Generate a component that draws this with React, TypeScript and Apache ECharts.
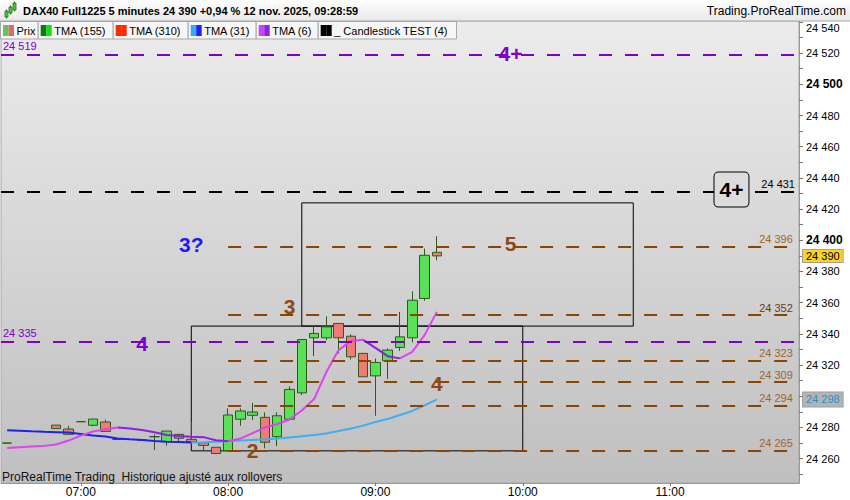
import React, { useEffect, useRef } from "react";
import * as echarts from "echarts";

// ---------- data ----------
const times = [
  "06:30","06:35","06:40","06:45","06:50","06:55",
  "07:00","07:05","07:10","07:15","07:20","07:25","07:30","07:35","07:40","07:45","07:50","07:55",
  "08:00","08:05","08:10","08:15","08:20","08:25","08:30","08:35","08:40","08:45","08:50","08:55",
  "09:00","09:05","09:10","09:15","09:20","09:25","09:30","09:35","09:40","09:45","09:50","09:55",
  "10:00","10:05","10:10","10:15","10:20","10:25","10:30","10:35","10:40","10:45","10:50","10:55",
  "11:00","11:05","11:10","11:15","11:20","11:25","11:30","11:35","11:40","11:45","11:50",
];
const hourLabels = ["07:00", "08:00", "09:00", "10:00", "11:00"];

const candleTimes = [
  "06:30","06:50","06:55","07:00","07:05","07:10","07:15","07:25","07:30","07:35","07:40","07:45","07:50","07:55",
  "08:00","08:05","08:10","08:15","08:20","08:25","08:30","08:35","08:40","08:45","08:50","08:55",
  "09:00","09:05","09:10","09:15","09:20","09:25",
];
const opens = [24270, 24281.5, 24279, 24283.7, 24281.4, 24283.5, 24272.4, 24272, 24274.1, 24270.9, 24275.6, 24272.4, 24270.2, 24267.3,
  24265.1, 24285.3, 24287.8, 24286.5, 24274.1, 24285.3, 24302.2, 24337.5, 24337.5, 24346.7, 24338.5, 24327.5,
  24313.1, 24322.7, 24331.3, 24337.5, 24362.7, 24392.3];
const closes = [24270, 24279.3, 24275.6, 24283.7, 24285.4, 24277.5, 24272.4, 24272, 24274.1, 24277.7, 24273.1, 24270.7, 24268.5, 24263.3,
  24288, 24290.6, 24289.9, 24270.5, 24287.5, 24304.4, 24336.4, 24340.3, 24344.5, 24337.5, 24325.3, 24312.5,
  24321.7, 24329.6, 24338.1, 24361.6, 24390.4, 24390];
const lows = [24270, 24279.3, 24275.6, 24283.7, 24280.7, 24277.5, 24272.4, 24272, 24265.6, 24268.3, 24270.9, 24270.7, 24264.9, 24263.3,
  24265.1, 24281.1, 24284.8, 24266.6, 24268.1, 24285.3, 24300.8, 24325.7, 24336, 24327.5, 24323.6, 24312.5,
  24287.5, 24311, 24329.1, 24334.5, 24361.2, 24387.2];
const highs = [24270, 24281.5, 24281, 24283.7, 24285.4, 24285, 24272.4, 24272, 24275.6, 24277.7, 24275.6, 24283.7, 24270.2, 24267.3,
  24292.2, 24292.2, 24295.8, 24289.7, 24289.7, 24306.4, 24336.4, 24345.6, 24351.3, 24346.7, 24339.8, 24327.5,
  24324.2, 24330.7, 24354.1, 24367.3, 24394.7, 24402.6];

// moving averages, one value per 5-min slot from 06:30 to 09:25
const tma31 = [24278.2, 24277.9, 24277.5, 24277.2, 24277.0, 24276.8, 24275.8, 24274.8, 24274.2, 24273.0, 24272.4, 24272.0,
  24271.3, 24270.9, 24270.7, 24270.4, 24270.6, 24270.9, 24271.3, 24271.6, 24272.0, 24272.4, 24272.9, 24273.6,
  24274.3, 24275.2, 24276.2, 24277.7, 24279.3, 24281.2, 24283.5, 24285.4, 24288.0, 24290.6, 24294.2, 24298.0];
const tma6 = [24266.8, 24267.3, 24267.8, 24268.2, 24269.1, 24271.6, 24274.8, 24277.4, 24278.8, 24280.0, 24279.4, 24278.4,
  24276.9, 24275.2, 24274.5, 24274.1, 24273.8, 24271.8, 24271.2, 24272.9, 24276.4, 24280.0, 24282.2, 24285.1,
  24290.9, 24298.2, 24315.5, 24329.6, 24335.5, 24336.2, 24331.0, 24325.7, 24324.3, 24328.5, 24339.2, 24354.1];

// horizontal levels
const purpleLevels = [24519, 24335];
const blackLevels = [24431];
const brownLevels = [24396, 24352, 24323, 24309, 24294, 24265];
const brownStart = "08:00";
const brownEnd = "11:50";

// rectangles: [fromTime, toTime, low, high]
const boxes: [string, string, number, number][] = [
  ["07:45", "10:00", 24265, 24345],
  ["08:30", "10:45", 24345, 24424],
];

// annotations: [text, time, value]
const purpleNotes: [string, string, number][] = [["4+", "09:55", 24520], ["4", "07:25", 24334]];
const blueNotes: [string, string, number][] = [["3?", "07:45", 24397]];
const brownNotes: [string, string, number][] = [["3", "08:25", 24357.5], ["5", "09:55", 24398], ["4", "09:25", 24308.5], ["2", "08:10", 24265]];
const boxedNote: [string, string, number] = ["4+", "11:25", 24432.5];

const yMin = 24244.4;
const yMax = 24540.6;
// 24 300 is hidden behind the TMA(31) badge in the reference
const yTicks = [24260, 24280, 24320, 24340, 24360, 24380, 24400, 24420, 24440, 24460, 24480, 24500, 24520, 24540];
const yMinorTicks = [24250, 24260, 24270, 24280, 24290, 24300, 24310, 24320, 24330, 24340, 24350, 24360, 24370, 24380, 24390,
  24400, 24410, 24420, 24430, 24440, 24450, 24460, 24470, 24480, 24490, 24500, 24510, 24520, 24530, 24540];

const titleText = "DAX40 Full1225 5 minutes 24 390 +0,94 % 12 nov. 2025, 09:28:59";
const siteText = "Trading.ProRealTime.com";
const footerText = "ProRealTime Trading  Historique ajusté aux rollovers";
const legendItems = ["Prix", "TMA (155)", "TMA (310)", "TMA (31)", "TMA (6)", "_ Candlestick TEST (4)"];

// ---------- layout / style ----------
const FONT = "'Liberation Sans', Arial, sans-serif";
const legendEdges = [0, 37.7, 112.7, 187.7, 255.7, 317.7, 456];
const legendIconColors = [
  ["#5cc85c", "#e06a6a"],
  ["#0a7a0a", "#14dd14"],
  ["#ff2a00", "#ff2a00"],
  ["#3aaaf0", "#1f1fff"],
  ["#cc44f0", "#8a22ee"],
  ["#000000", "#000000"],
];
const PURPLE = "#8000c8";
const BROWN = "#8b4500";
const BROWN_TXT = "#8b4a14";

function fmt(v: number) {
  const r = Math.round(v);
  return `${Math.floor(r / 1000)} ${String(r % 1000).padStart(3, "0")}`;
}

function splitByDirection(vals: number[]) {
  const up: (number | string)[] = vals.map(() => "-");
  const down: (number | string)[] = vals.map(() => "-");
  for (let i = 0; i < vals.length - 1; i++) {
    const t = vals[i + 1] >= vals[i] ? up : down;
    t[i] = vals[i];
    t[i + 1] = vals[i + 1];
  }
  return { up, down };
}

function noteItems(notes: [string, string, number][], color: string) {
  return notes.map(([text, t, v]) => ({
    coord: [t, v],
    label: {
      show: true,
      position: "inside",
      formatter: text,
      color,
      fontSize: 21,
      fontWeight: "bold",
      fontFamily: FONT,
    },
  }));
}

function buildGraphics() {
  const g: any[] = [];
  g.push({
    type: "rect",
    z: 100,
    silent: true,
    shape: { x: -1, y: -1, width: 852, height: 22 },
    style: {
      fill: new echarts.graphic.LinearGradient(0, 0, 0, 1, [
        { offset: 0, color: "#ffffff" },
        { offset: 1, color: "#e9e9e9" },
      ]),
      stroke: "#a8a8a8",
      lineWidth: 1,
    },
  });
  // candle icon
  const icon = [
    [5, 11, 6],
    [9, 7, 6],
    [13, 3, 7],
  ];
  icon.forEach(([x, y, h]) => {
    g.push({ type: "line", z: 101, silent: true, shape: { x1: x + 1.5, y1: y - 1.5, x2: x + 1.5, y2: y + h + 1.5 }, style: { stroke: "#2a6a1a", lineWidth: 1 } });
    g.push({ type: "rect", z: 101, silent: true, shape: { x, y, width: 3, height: h }, style: { fill: "#44cc44", stroke: "#2a6a1a", lineWidth: 0.8 } });
  });
  g.push({
    type: "text", z: 101, silent: true,
    style: { text: titleText, x: 23, y: 11, verticalAlign: "middle", align: "left", fontSize: 11, fontWeight: "bold", fontFamily: FONT, fill: "#000" },
  });
  g.push({
    type: "text", z: 101, silent: true,
    style: { text: siteText, x: 846, y: 11, verticalAlign: "middle", align: "right", fontSize: 12, fontFamily: FONT, fill: "#000" },
  });
  legendItems.forEach((label, i) => {
    const x0 = legendEdges[i];
    const x1 = legendEdges[i + 1];
    g.push({ type: "rect", z: 100, silent: true, shape: { x: x0 + 0.5, y: 21.5, width: x1 - x0, height: 17.5 }, style: { fill: "#f6f6f6", stroke: "#a8a8a8", lineWidth: 1 } });
    const [c1, c2] = legendIconColors[i];
    g.push({ type: "rect", z: 101, silent: true, shape: { x: x0 + 3, y: 25, width: 5.5, height: 11 }, style: { fill: c1 } });
    g.push({ type: "rect", z: 101, silent: true, shape: { x: x0 + 8.5, y: 25, width: 5.5, height: 11 }, style: { fill: c2 } });
    g.push({
      type: "text", z: 101, silent: true,
      style: { text: label, x: x0 + 16.5, y: 30.5, verticalAlign: "middle", align: "left", fontSize: 11, fontFamily: FONT, fill: "#000" },
    });
  });
  g.push({
    type: "text", z: 101, silent: true,
    style: { text: footerText, x: 2, y: 476.5, verticalAlign: "middle", align: "left", fontSize: 12, fontFamily: FONT, fill: "#111" },
  });
  return g;
}

function buildOption() {
  const candleData = candleTimes.map((t, i) => [t, opens[i], closes[i], lows[i], highs[i]]);
  const t31 = splitByDirection(tma31);
  const t6 = splitByDirection(tma6);
  const lastClose = closes[closes.length - 1];
  const lastT31 = tma31[tma31.length - 1];

  const lineBase = {
    type: "line",
    symbol: "none",
    showSymbol: false,
    connectNulls: false,
    silent: true,
    z: 3,
  };

  const markLines: any[] = [];
  purpleLevels.forEach((v) => {
    markLines.push({
      yAxis: v,
      lineStyle: { color: PURPLE, type: [13, 13], width: 2 },
      label: { show: true, position: "insideStartTop", formatter: fmt(v), color: PURPLE, fontSize: 11, fontFamily: FONT, distance: [2, 3] },
    });
  });
  blackLevels.forEach((v) => {
    markLines.push({
      yAxis: v,
      lineStyle: { color: "#000", type: [13, 13], width: 2 },
      label: { show: true, position: "insideEndTop", formatter: fmt(v), color: "#000", fontSize: 11, fontFamily: FONT, distance: [4, 2] },
    });
  });
  brownLevels.forEach((v) => {
    markLines.push([
      {
        coord: [brownStart, v],
        lineStyle: { color: BROWN, type: [13, 13], width: 2 },
        label: {
          show: true, position: "insideEndTop", formatter: fmt(v),
          color: v === 24352 ? "#6b3a10" : "#a0642e", fontSize: 11, fontFamily: FONT, distance: [0, 2],
        },
      },
      { coord: [brownEnd, v] },
    ]);
  });

  const markPoints: any[] = [
    ...noteItems(purpleNotes, PURPLE),
    ...noteItems(blueNotes, "#1a1aff"),
    ...noteItems(brownNotes, BROWN_TXT),
    {
      coord: [boxedNote[1], boxedNote[2]],
      label: {
        show: true, position: "inside", formatter: boxedNote[0], color: "#000", fontSize: 21, fontWeight: "bold", fontFamily: FONT,
        backgroundColor: "#dcdcdc", borderColor: "#000", borderWidth: 1, borderRadius: 4, padding: [7, 5, 6, 5],
      },
    },
  ];

  // price badges on the right axis
  const badgeLines: any[] = [
    {
      yAxis: lastClose,
      lineStyle: { color: "rgba(0,0,0,0)", width: 1 },
      label: {
        show: true, position: "end", formatter: fmt(lastClose), color: "#000", fontSize: 11, fontFamily: FONT,
        backgroundColor: "#ffd21f", borderColor: "#a0a0a0", borderWidth: 1, padding: [1, 3, 0, 3], distance: 4,
      },
    },
    {
      yAxis: lastT31,
      lineStyle: { color: "rgba(0,0,0,0)", width: 1 },
      label: {
        show: true, position: "end", formatter: fmt(lastT31), color: "#2a8fd0", fontSize: 11, fontFamily: FONT,
        backgroundColor: "#b4b4b4", borderColor: "#a0a0a0", borderWidth: 1, padding: [2, 3, 1, 3], distance: 4,
      },
    },
  ];

  return {
    animation: false,
    backgroundColor: "#ffffff",
    textStyle: { fontFamily: FONT },
    grid: {
      left: 1, right: 51, top: 21, bottom: 17,
      show: true,
      backgroundColor: new echarts.graphic.LinearGradient(0, 0, 0, 1, [
        { offset: 0, color: "#ececec" },
        { offset: 1, color: "#bfbfbf" },
      ]),
      borderColor: "#a8a8a8",
      borderWidth: 1,
      containLabel: false,
      outerBoundsMode: "none",
    },
    xAxis: {
      type: "category",
      data: times,
      boundaryGap: true,
      axisLine: { show: true, lineStyle: { color: "#999" } },
      axisTick: { show: true, alignWithLabel: true, interval: (_i: number, v: string) => hourLabels.includes(v), length: 3, lineStyle: { color: "#777" } },
      axisLabel: { interval: (_i: number, v: string) => hourLabels.includes(v), color: "#000", fontSize: 12, margin: 3, fontFamily: FONT },
      splitLine: { show: false },
    },
    yAxis: {
      type: "value",
      position: "right",
      min: yMin,
      max: yMax,
      axisLine: { show: true, lineStyle: { color: "#999" } },
      axisTick: { show: true, length: 4, customValues: yMinorTicks, lineStyle: { color: "#777" } },
      axisLabel: {
        customValues: yTicks,
        color: "#000",
        fontSize: 11,
        margin: 7,
        fontFamily: FONT,
        formatter: (v: number) => (v >= 24540 ? `{t|${fmt(v)}}` : v % 100 === 0 ? `{b|${fmt(v)}}` : fmt(v)),
        rich: {
          b: { fontWeight: "bold", fontSize: 12, color: "#000", fontFamily: FONT },
          t: { fontSize: 11, color: "#000", padding: [13, 0, 0, 0], fontFamily: FONT },
        },
      },
      splitLine: { show: false },
    },
    graphic: buildGraphics(),
    series: [
      {
        type: "candlestick",
        data: candleData,
        encode: { x: 0, y: [1, 2, 3, 4] },
        barWidth: 10,
        silent: true,
        z: 2,
        itemStyle: {
          color: "#58e058",
          color0: "#f07b72",
          borderColor: "#2d5a19",
          borderColor0: "#2d5a19",
          borderColorDoji: "#2d5a19",
          borderWidth: 1,
        },
      },
      { ...lineBase, data: t31.down, lineStyle: { color: "#2020f0", width: 2 } },
      { ...lineBase, data: t31.up, lineStyle: { color: "#3cb0f0", width: 2 } },
      { ...lineBase, data: t6.down, lineStyle: { color: "#8c1ee6", width: 2 } },
      { ...lineBase, data: t6.up, lineStyle: { color: "#dd44ee", width: 2 } },
      {
        type: "line",
        data: [],
        silent: true,
        z: 4,
        markLine: { symbol: ["none", "none"], silent: true, animation: false, data: markLines },
        markArea: {
          silent: true,
          animation: false,
          itemStyle: { color: "rgba(0,0,0,0)", borderColor: "#000", borderWidth: 1 },
          data: boxes.map(([a, b, lo, hi]) => [{ coord: [a, lo] }, { coord: [b, hi] }]),
        },
        markPoint: {
          symbol: "circle",
          symbolSize: 1,
          silent: true,
          animation: false,
          itemStyle: { color: "rgba(0,0,0,0)" },
          data: markPoints,
        },
      },
      {
        type: "line",
        data: [],
        silent: true,
        z: 6,
        markLine: { symbol: ["none", "none"], silent: true, animation: false, data: badgeLines },
      },
    ],
  };
}

export default function App() {
  const ref = useRef<HTMLDivElement>(null);
  useEffect(() => {
    if (!ref.current) return;
    const chart = echarts.init(ref.current, undefined, { renderer: "svg" });
    chart.setOption(buildOption() as any);
    return () => chart.dispose();
  }, []);
  return (
    <div
      ref={ref}
      style={{ position: "fixed", left: 0, top: 0, width: 850, height: 500, background: "#fff" }}
    />
  );
}
